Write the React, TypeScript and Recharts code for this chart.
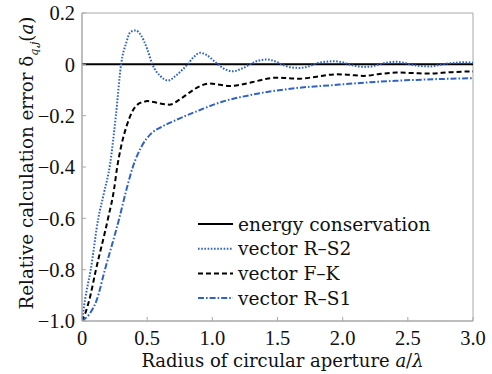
import { LineChart, Line, XAxis, YAxis, Legend, ReferenceArea, Label } from 'recharts';

document.body.style.margin = '0';

const SERIF = '"DejaVu Serif", serif';
const TICK_FONT = '"Liberation Serif", serif';
const BLUE = '#3062c6';
const FRAME = '#a8a8a8';

const xTicks = [0, 0.5, 1.0, 1.5, 2.0, 2.5, 3.0];
const yTicks = [-1.0, -0.8, -0.6, -0.4, -0.2, 0, 0.2];

// energy conservation (reference, zero everywhere)
const ecA = [0, 3];
const ecV = [0, 0];

// vector R-S2 (dotted)
const rs2A = [0, 0.023, 0.067, 0.125, 0.169, 0.215, 0.26, 0.3, 0.34, 0.37, 0.41, 0.45, 0.5, 0.54, 0.6, 0.66, 0.73, 0.81, 0.86, 0.905, 0.96, 1.03, 1.1, 1.16, 1.22, 1.29, 1.35, 1.42, 1.48, 1.55, 1.61, 1.67, 1.74, 1.8, 1.87, 1.93, 2.0, 2.06, 2.12, 2.18, 2.24, 2.3, 2.36, 2.41, 2.47, 2.54, 2.61, 2.67, 2.73, 2.79, 2.86, 2.92, 3.0];
const rs2V = [-1.0, -0.918, -0.8, -0.6, -0.5, -0.39, -0.2, 0.0, 0.085, 0.125, 0.132, 0.115, 0.06, 0.0, -0.045, -0.063, -0.04, 0.0, 0.03, 0.045, 0.035, 0.005, -0.02, -0.027, -0.018, 0.0, 0.014, 0.019, 0.012, -0.004, -0.012, -0.014, -0.008, 0.004, 0.01, 0.012, 0.008, -0.002, -0.008, -0.01, -0.006, 0.003, 0.008, 0.01, 0.006, -0.003, -0.007, -0.008, -0.004, 0.002, 0.006, 0.008, 0.006];

// vector F-K (dashed)
const fkA = [0, 0.025, 0.056, 0.107, 0.2, 0.245, 0.27, 0.3, 0.34, 0.39, 0.43, 0.47, 0.5, 0.55, 0.6, 0.67, 0.75, 0.83, 0.905, 0.98, 1.06, 1.135, 1.22, 1.31, 1.4, 1.49, 1.58, 1.67, 1.8, 1.95, 2.05, 2.16, 2.28, 2.41, 2.54, 2.67, 2.82, 2.98, 3.0];
const fkV = [-1.0, -0.97, -0.918, -0.8, -0.6, -0.49, -0.4, -0.32, -0.244, -0.18, -0.155, -0.147, -0.143, -0.147, -0.153, -0.157, -0.137, -0.108, -0.085, -0.075, -0.08, -0.084, -0.079, -0.069, -0.058, -0.052, -0.054, -0.056, -0.048, -0.039, -0.041, -0.045, -0.038, -0.032, -0.034, -0.036, -0.031, -0.028, -0.028];

// vector R-S1 (dash-dot)
const rs1A = [0, 0.061, 0.113, 0.176, 0.286, 0.34, 0.39, 0.457, 0.53, 0.61, 0.73, 0.905, 1.08, 1.29, 1.48, 1.67, 1.9, 2.1, 2.41, 2.7, 3.0];
const rs1V = [-1.0, -0.97, -0.918, -0.8, -0.6, -0.49, -0.4, -0.32, -0.27, -0.244, -0.215, -0.178, -0.145, -0.12, -0.103, -0.091, -0.082, -0.074, -0.064, -0.058, -0.054];

const toPoints = (a: number[], v: number[]) => a.map((x, i) => ({ a: x, v: v[i] }));

const SERIES = [
  { name: 'energy conservation', data: toPoints(ecA, ecV), color: '#000000', dash: undefined as string | undefined, width: 2 },
  { name: 'vector R–S2', data: toPoints(rs2A, rs2V), color: BLUE, dash: '1.6 1.6', width: 2 },
  { name: 'vector F–K', data: toPoints(fkA, fkV), color: '#000000', dash: '5 3', width: 2 },
  { name: 'vector R–S1', data: toPoints(rs1A, rs1V), color: BLUE, dash: '6 2 1.6 2', width: 2 },
];

const fmt = (v: number) => (v === 0 ? '0' : v.toFixed(1).replace('-', '−'));

const renderLegend = () => (
  <svg width={260} height={100}>
    {SERIES.map((s, i) => (
      <g key={s.name} transform={`translate(0, ${12 + i * 24.7})`}>
        <line x1={2} x2={37} y1={0} y2={0} stroke={s.color} strokeWidth={s.width} strokeDasharray={s.dash} />
        <text x={42} y={0} dy="0.35em" fontFamily={SERIF} fontSize={18.6} fill="#111">
          {s.name}
        </text>
      </g>
    ))}
  </svg>
);

const XTitle = (props: any) => {
  const { x, y, width } = props.viewBox;
  return (
    <text x={x + width / 2 + 5} y={y + 46} textAnchor="middle" fontFamily={SERIF} fontSize={18} fill="#111">
      Radius of circular aperture <tspan fontStyle="italic">a</tspan>/<tspan fontStyle="italic">λ</tspan>
    </text>
  );
};

const YTitle = (props: any) => {
  const { y, height } = props.viewBox;
  const cx = 27;
  const cy = y + height / 2 - 4;
  return (
    <text
      x={cx}
      y={cy}
      transform={`rotate(-90 ${cx} ${cy})`}
      textAnchor="middle"
      dy="0.35em"
      fontFamily={SERIF}
      fontSize={18.3}
      fill="#111"
    >
      Relative calculation error δ
      <tspan fontSize={11} fontStyle="italic" dy={5}>q,j</tspan>
      <tspan dy={-5}>(</tspan>
      <tspan fontStyle="italic">a</tspan>)
    </text>
  );
};

export default function App() {
  return (
    <div style={{ width: 492, height: 374, background: '#fff' }}>
      <LineChart width={492} height={374} margin={{ top: 13, right: 19, bottom: 0, left: 0 }}>
        <XAxis
          dataKey="a"
          type="number"
          domain={[0, 3]}
          ticks={xTicks}
          tickFormatter={fmt}
          allowDataOverflow
          height={53}
          axisLine={{ stroke: FRAME }}
          tickLine={{ stroke: FRAME }}
          tickSize={-4}
          tickMargin={13}
          tick={{ fill: '#111', fontSize: 20.5, fontFamily: TICK_FONT }}
        >
          <Label content={XTitle} />
        </XAxis>
        <YAxis
          dataKey="v"
          type="number"
          domain={[-1, 0.2]}
          ticks={yTicks}
          tickFormatter={fmt}
          allowDataOverflow
          width={82}
          axisLine={{ stroke: FRAME }}
          tickLine={{ stroke: FRAME }}
          tickSize={-4}
          tickMargin={11}
          tick={{ fill: '#111', fontSize: 20.5, fontFamily: TICK_FONT }}
        >
          <Label content={YTitle} />
        </YAxis>
        <ReferenceArea x1={0} x2={3} y1={-1} y2={0.2} fill="none" stroke={FRAME} strokeWidth={1} />
        <Legend
          layout="vertical"
          align="center"
          verticalAlign="middle"
          content={renderLegend}
          wrapperStyle={{ left: 196, top: 212, width: 260, height: 100 }}
        />
        {SERIES.map((s) => (
          <Line
            key={s.name}
            data={s.data}
            dataKey="v"
            name={s.name}
            type="monotone"
            stroke={s.color}
            strokeWidth={s.width}
            strokeDasharray={s.dash}
            dot={false}
            activeDot={false}
            isAnimationActive={false}
          />
        ))}
      </LineChart>
    </div>
  );
}
